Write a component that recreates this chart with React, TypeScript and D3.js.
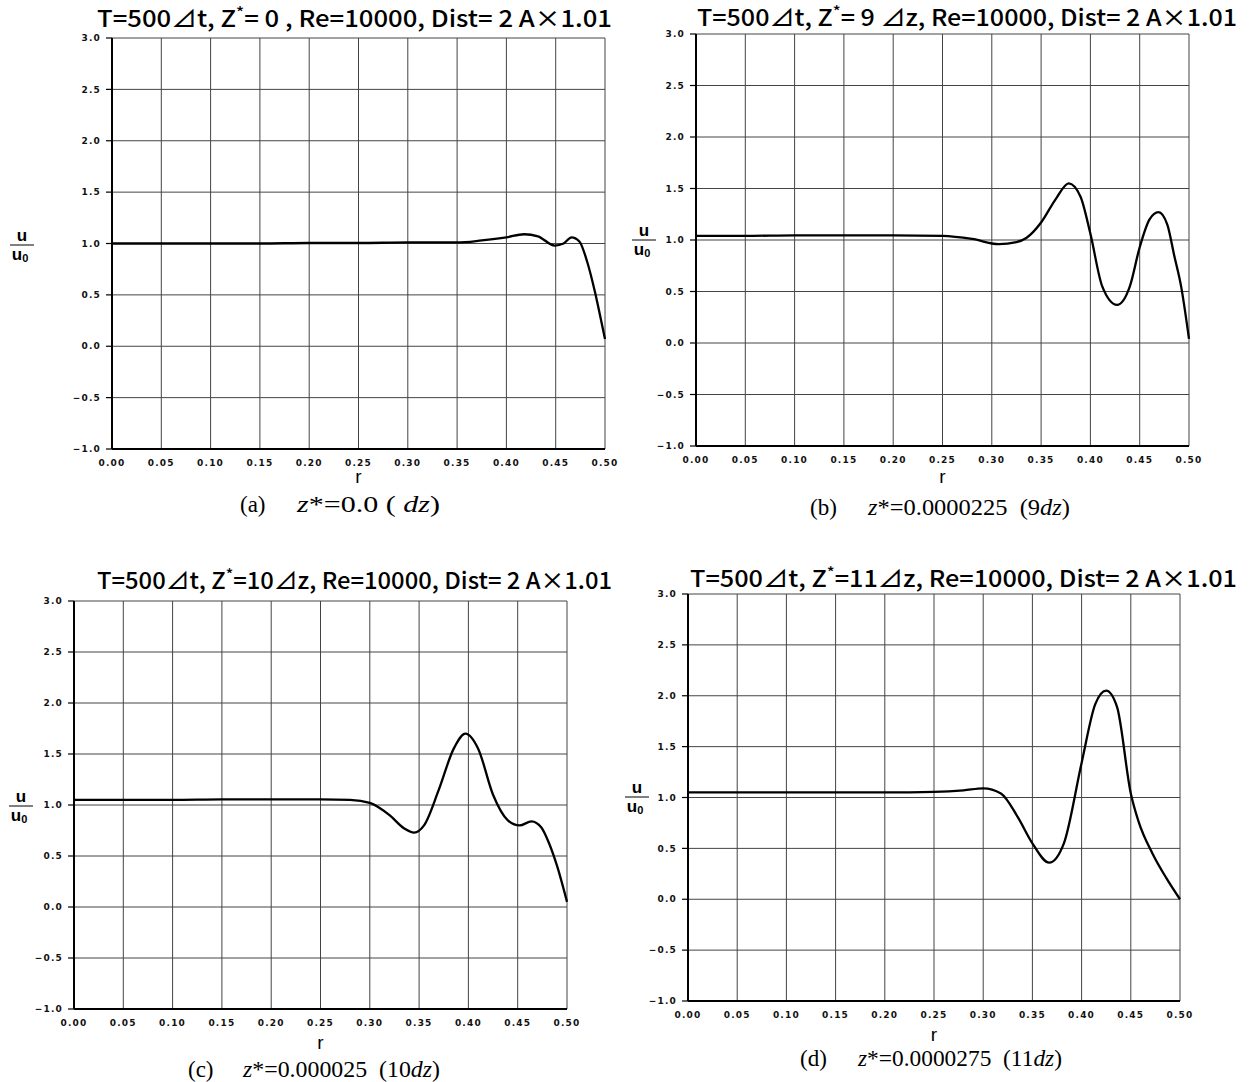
import React from "react";
import * as d3 from "d3";

// ---- data ----
const rTicks = [0, 0.05, 0.1, 0.15, 0.2, 0.25, 0.3, 0.35, 0.4, 0.45, 0.5];
const uTicks = [3.0, 2.5, 2.0, 1.5, 1.0, 0.5, 0.0, -0.5, -1.0];

const rA = [0, 0.05, 0.1, 0.15, 0.2, 0.25, 0.3, 0.35, 0.375, 0.4, 0.418, 0.432, 0.449, 0.458, 0.466, 0.474, 0.482, 0.49, 0.495, 0.5];
const uA = [1.0, 1.0, 1.0, 1.0, 1.005, 1.005, 1.01, 1.01, 1.03, 1.06, 1.09, 1.07, 0.98, 1.0, 1.06, 1.02, 0.82, 0.52, 0.3, 0.07];

const rB = [0, 0.05, 0.1, 0.15, 0.2, 0.25, 0.28, 0.307, 0.325, 0.335, 0.35, 0.365, 0.378, 0.39, 0.4, 0.412, 0.427, 0.44, 0.45, 0.46, 0.469, 0.478, 0.485, 0.492, 0.5];
const uB = [1.04, 1.04, 1.045, 1.045, 1.045, 1.04, 1.01, 0.96, 0.98, 1.02, 1.17, 1.4, 1.55, 1.42, 1.06, 0.55, 0.37, 0.55, 0.93, 1.2, 1.27, 1.15, 0.85, 0.55, 0.04];

const rC = [0, 0.05, 0.1, 0.15, 0.2, 0.25, 0.28, 0.3, 0.32, 0.335, 0.345, 0.355, 0.37, 0.385, 0.397, 0.41, 0.425, 0.44, 0.452, 0.464, 0.474, 0.482, 0.49, 0.5];
const uC = [1.05, 1.05, 1.05, 1.055, 1.055, 1.055, 1.05, 1.02, 0.9, 0.77, 0.73, 0.8, 1.15, 1.55, 1.7, 1.55, 1.1, 0.85, 0.8, 0.84, 0.78, 0.62, 0.4, 0.05];

const rD = [0, 0.05, 0.1, 0.15, 0.2, 0.25, 0.28, 0.3, 0.318, 0.335, 0.35, 0.367, 0.382, 0.4, 0.414, 0.425, 0.436, 0.45, 0.458, 0.472, 0.486, 0.5];
const uD = [1.05, 1.05, 1.05, 1.05, 1.05, 1.055, 1.07, 1.09, 1.04, 0.81, 0.55, 0.36, 0.55, 1.34, 1.92, 2.05, 1.89, 1.04, 0.76, 0.45, 0.21, 0.0];

const titleRest = [
  "= 0 , Re=10000, Dist= 2 A×1.01",
  "= 9 ⊿z, Re=10000, Dist= 2 A×1.01",
  "=10⊿z, Re=10000, Dist= 2 A×1.01",
  "=11⊿z, Re=10000, Dist= 2 A×1.01",
];
const captionLetters = ["(a)", "(b)", "(c)", "(d)"];
const captionValues = ["=0.0", "=0.0000225", "=0.000025", "=0.0000275"];
const captionDz = [" ( ", "  (9", "  (10", "  (11"];

// ---- layout ----
const panels = [
  { x0: 112, x1: 605, yT: 38, yB: 449, tx: 97, ty: 27, tw: 515, lx: 22, ly: 245, rY: 483, cx: 240, cz: 297, cy: 512, cw: 143, r: rA, u: uA },
  { x0: 696, x1: 1189, yT: 34, yB: 446, tx: 697, ty: 26, tw: 540, lx: 644, ly: 240, rY: 483, cx: 810, cz: 868, cy: 515, cw: 202, r: rB, u: uB },
  { x0: 74, x1: 567, yT: 601, yB: 1009, tx: 97, ty: 589, tw: 515, lx: 21, ly: 806, rY: 1049, cx: 188, cz: 243, cy: 1077, cw: 197, r: rC, u: uC },
  { x0: 688, x1: 1180, yT: 594, yB: 1001, tx: 690, ty: 587, tw: 547, lx: 637, ly: 797, rY: 1041, cx: 800, cz: 858, cy: 1066, cw: 204, r: rD, u: uD },
];

const tickFont = "'DejaVu Sans', sans-serif";
const titleFont = "'Noto Sans CJK JP', 'Liberation Sans', sans-serif";
const labelFont = "'Liberation Sans', 'DejaVu Sans', sans-serif";
const serif = "'Liberation Serif', 'Times New Roman', serif";

function Panel({ p, i }: { p: any; i: number }) {
  const x = d3.scaleLinear().domain([0, 0.5]).range([p.x0, p.x1]);
  const y = d3.scaleLinear().domain([-1, 3]).range([p.yB, p.yT]);
  const line = d3
    .line<number>()
    .x((_, k) => x(p.r[k]))
    .y((d) => y(d))
    .curve(d3.curveMonotoneX);
  const path = line(p.u) || "";
  const fmtX = d3.format(".2f");
  const fmtY = (v: number) => (v < 0 ? "−" + d3.format(".1f")(-v) : d3.format(".1f")(v));
  return (
    <g>
      {/* grid */}
      {rTicks.map((t) => (
        <line key={"gx" + t} x1={x(t)} x2={x(t)} y1={p.yT} y2={p.yB} stroke="#444" strokeWidth={1} />
      ))}
      {uTicks.map((t) => (
        <line key={"gy" + t} x1={p.x0} x2={p.x1} y1={y(t)} y2={y(t)} stroke="#444" strokeWidth={1} />
      ))}
      {/* axes */}
      <line x1={p.x0} x2={p.x0} y1={p.yT} y2={p.yB} stroke="#000" strokeWidth={2} />
      <line x1={p.x0} x2={p.x1} y1={p.yB} y2={p.yB} stroke="#000" strokeWidth={2} />
      {uTicks.map((t) => (
        <line key={"ty" + t} x1={p.x0 - 6} x2={p.x0} y1={y(t)} y2={y(t)} stroke="#000" strokeWidth={1.2} />
      ))}
      {uTicks.map((t) => (
        <text key={"ly" + t} x={p.x0 - 11} y={y(t)} dy="0.35em" textAnchor="end" fontFamily={tickFont} fontWeight="bold" fontSize={9} letterSpacing={1.2} fill="#111">
          {fmtY(t)}
        </text>
      ))}
      {rTicks.map((t) => (
        <text key={"lx" + t} x={x(t)} y={p.yB + 17} textAnchor="middle" fontFamily={tickFont} fontWeight="bold" fontSize={9} letterSpacing={1.2} fill="#111">
          {fmtX(t)}
        </text>
      ))}
      {/* curve */}
      <path d={path} fill="none" stroke="#000" strokeWidth={2.3} />
      {/* title */}
      <text x={p.tx} y={p.ty} fontFamily={titleFont} fontWeight={500} fontSize={23} fill="#000" textLength={p.tw} lengthAdjust="spacingAndGlyphs">
        T=500⊿t, Z<tspan dy={-9} fontSize={15}>*</tspan>
        <tspan dy={9}>{titleRest[i]}</tspan>
      </text>
      {/* y label */}
      <text x={p.lx} y={p.ly - 4} textAnchor="middle" fontFamily={labelFont} fontWeight="bold" fontSize={17} fill="#000">u</text>
      <line x1={p.lx - 12} x2={p.lx + 12} y1={p.ly} y2={p.ly} stroke="#000" strokeWidth={1} />
      <text x={p.lx - 2} y={p.ly + 15} textAnchor="middle" fontFamily={labelFont} fontWeight="bold" fontSize={17} fill="#000">
        u<tspan fontSize={11} dy={2}>0</tspan>
      </text>
      {/* x label */}
      <text x={(p.x0 + p.x1) / 2} y={p.rY} textAnchor="middle" fontFamily={labelFont} fontSize={19} fill="#000">r</text>
      {/* caption */}
      <text x={p.cx} y={p.cy} fontFamily={serif} fontSize={23} fill="#000">
        {captionLetters[i]}
      </text>
      <text x={p.cz} y={p.cy} fontFamily={serif} fontSize={23} fill="#000" textLength={p.cw} lengthAdjust="spacingAndGlyphs" style={{ whiteSpace: "pre" }}>
        <tspan fontStyle="italic">z</tspan>
        {"*" + captionValues[i] + captionDz[i]}
        <tspan fontStyle="italic">dz</tspan>
        {")"}
      </text>
    </g>
  );
}

export default function App() {
  return (
    <svg width={1250} height={1082} style={{ position: "absolute", left: 0, top: 0, background: "#fff" }}>
      <rect x={0} y={0} width={1250} height={1082} fill="#fff" />
      {panels.map((p, i) => (
        <Panel key={i} p={p} i={i} />
      ))}
    </svg>
  );
}
